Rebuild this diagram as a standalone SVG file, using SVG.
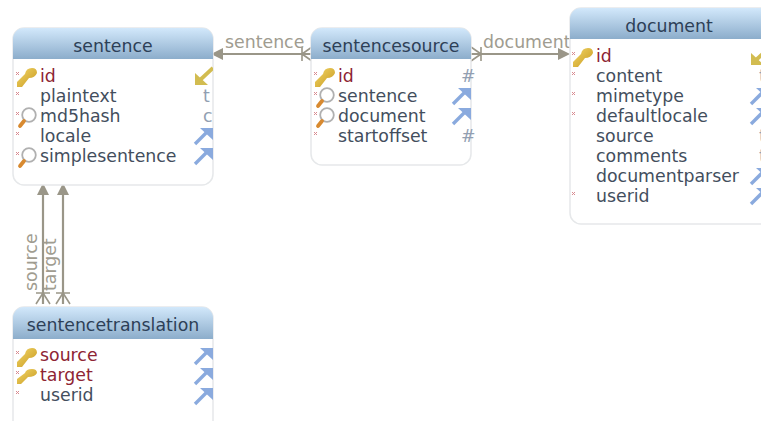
<svg xmlns="http://www.w3.org/2000/svg" xmlns:xlink="http://www.w3.org/1999/xlink" width="761" height="421" viewBox="0 0 761 421">
<style>
text{font-family:"DejaVu Sans",sans-serif;font-size:17.33px;fill:#434e5d}
.h{text-anchor:middle;fill:#2d4057}
.k{fill:#8e2433}
.t{fill:#929fb2}
.l{fill:#a09c90}
.b{fill:#fff;stroke:#e6e8ea;stroke-width:1.5}
.c{stroke:#9a9688;stroke-width:2.2;fill:none}
.cf{stroke:#9a9688;stroke-width:1.6;fill:none}
.a{fill:#9a9688}
.x{stroke:#d88a90;stroke-width:1;fill:none}
</style>
<defs>
<linearGradient id="g" x1="0" y1="0" x2="0" y2="1"><stop offset="0" stop-color="#d2e8fb"/><stop offset="1" stop-color="#8cadcb"/></linearGradient>
<linearGradient id="kg" x1="0" y1="0" x2="1" y2="1"><stop offset="0" stop-color="#f2d668"/><stop offset="1" stop-color="#c89a20"/></linearGradient>
<g id="mark"><path class="x" d="M-2-2L1 1M1-2L-2 1"/></g>
<g id="key"><path d="M-6 10L-6 13L-1 13L6 4Q12 4 14-1Q14-6 9-6Q3-6 2 0L-6 8Z" fill="url(#kg)"/></g>
<g id="skey"><path d="M-6 8L-6 10L-2 10L5 3Q12 3 14-1Q14-5 9-5Q3-5 2-1L-6 5Z" fill="url(#kg)"/></g>
<g id="mag"><circle cx="5" cy="-1" r="6.8" fill="#fff" stroke="#b0b0b0" stroke-width="1.8"/><path d="M0 5L-4 10" stroke="#d88a30" stroke-width="3.8" stroke-linecap="round"/></g>
<g id="up"><path d="M0 16L14 2" stroke="#8aaade" stroke-width="3.4"/><path d="M5 0L18 0L18 12Z" fill="#8aaade"/></g>
<g id="dn"><path d="M18 0L4 13" stroke="#d2bc50" stroke-width="3.8"/><path d="M0 5L0 17L13 17Z" fill="#d2bc50"/></g>
<clipPath id="c1"><rect x="13" y="28" width="200" height="157" rx="11"/></clipPath>
<clipPath id="c3"><rect x="570" y="8" width="220" height="216" rx="11"/></clipPath>
<clipPath id="c4"><rect x="13" y="307" width="200" height="130" rx="11"/></clipPath>
<clipPath id="c2"><rect x="311" y="28" width="160" height="137" rx="11"/></clipPath>
</defs>
<g id="connectors">
<path class="c" d="M222 54H311"/><path class="a" d="M211 54L223 48V60Z"/>
<path class="cf" d="M302 54L312 47M302 54L312 61M302 47V61"/>
<text class="l" x="225" y="48">sentence</text>
<path class="c" d="M471 54H560"/><path class="a" d="M570 54L558 48V60Z"/>
<path class="cf" d="M481 54L471 47M481 54L471 61M481 47V61"/>
<text class="l" x="483" y="48">document</text>
<path class="c" d="M43 194V304"/><path class="a" d="M43 183L37 195H49Z"/>
<path class="cf" d="M43 293L36 304M43 293L50 304M36 293H50"/>
<path class="c" d="M63 194V304"/><path class="a" d="M63 183L57 195H69Z"/>
<path class="cf" d="M63 293L56 304M63 293L70 304M56 293H70"/>
<text class="l" transform="translate(37 291) rotate(-90)">source</text>
<text class="l" transform="translate(56 291) rotate(-90)">target</text>
</g>
<g id="sentence">
<rect class="b" x="13" y="28" width="200" height="157" rx="11"/>
<g clip-path="url(#c1)"><rect x="13" y="28" width="200" height="31" fill="url(#g)"/>
<use href="#dn" x="195" y="68"/><use href="#up" x="195" y="128"/><use href="#up" x="195" y="148"/></g>
<text class="h" x="113" y="52">sentence</text>
<use href="#mark" x="18" y="74"/><use href="#mark" x="18" y="94"/><use href="#mark" x="18" y="114"/><use href="#mark" x="18" y="134"/><use href="#mark" x="18" y="154"/>
<use href="#key" x="23" y="74"/><use href="#mag" x="24" y="116"/><use href="#mag" x="24" y="156"/>
<text class="k" x="40" y="82">id</text><text x="40" y="102">plaintext</text><text x="40" y="122">md5hash</text><text x="40" y="142">locale</text><text x="40" y="162">simplesentence</text>
<text class="t" x="203" y="102">t</text><text class="t" x="203" y="122">c</text>
</g>
<g id="sentencesource">
<rect class="b" x="311" y="28" width="160" height="137" rx="11"/>
<g clip-path="url(#c2)"><rect x="311" y="28" width="160" height="31" fill="url(#g)"/>
<use href="#up" x="453" y="88"/><use href="#up" x="453" y="108"/></g>
<text class="h" x="391" y="52">sentencesource</text>
<use href="#mark" x="316" y="74"/><use href="#mark" x="316" y="94"/><use href="#mark" x="316" y="114"/><use href="#mark" x="316" y="134"/>
<use href="#key" x="321" y="74"/><use href="#mag" x="322" y="96"/><use href="#mag" x="322" y="116"/>
<text class="k" x="338" y="82">id</text><text x="338" y="102">sentence</text><text x="338" y="122">document</text><text x="338" y="142">startoffset</text>
<text class="t" x="461" y="82">#</text><text class="t" x="461" y="142">#</text>
</g>
<g id="document">
<rect class="b" x="570" y="8" width="220" height="216" rx="11"/>
<g clip-path="url(#c3)"><rect x="570" y="8" width="220" height="31" fill="url(#g)"/>
<use href="#dn" x="751" y="48"/><use href="#up" x="751" y="88"/><use href="#up" x="751" y="108"/><use href="#up" x="751" y="168"/><use href="#up" x="751" y="188"/></g>
<text class="h" x="669" y="32">document</text>
<use href="#mark" x="574" y="54"/><use href="#mark" x="574" y="74"/><use href="#mark" x="574" y="94"/><use href="#mark" x="574" y="114"/><use href="#mark" x="574" y="194"/>
<use href="#key" x="579" y="54"/>
<text class="k" x="596" y="62">id</text><text x="596" y="82">content</text><text x="596" y="102">mimetype</text><text x="596" y="122">defaultlocale</text><text x="596" y="142">source</text><text x="596" y="162">comments</text><text x="596" y="182">documentparser</text><text x="596" y="202">userid</text>
<text class="t" x="759" y="82">t</text><text class="t" x="759" y="142">t</text><text class="t" x="759" y="162">t</text>
</g>
<g id="sentencetranslation">
<rect class="b" x="13" y="307" width="200" height="130" rx="11"/>
<g clip-path="url(#c4)"><rect x="13" y="307" width="200" height="32" fill="url(#g)"/>
<use href="#up" x="195" y="348"/><use href="#up" x="195" y="368"/><use href="#up" x="195" y="388"/></g>
<text class="h" x="113" y="331">sentencetranslation</text>
<use href="#mark" x="18" y="353"/><use href="#mark" x="18" y="373"/><use href="#mark" x="18" y="393"/>
<use href="#key" x="23" y="354"/><use href="#skey" x="23" y="374"/>
<text class="k" x="40" y="361">source</text><text class="k" x="40" y="381">target</text><text x="40" y="401">userid</text>
</g>
</svg>
